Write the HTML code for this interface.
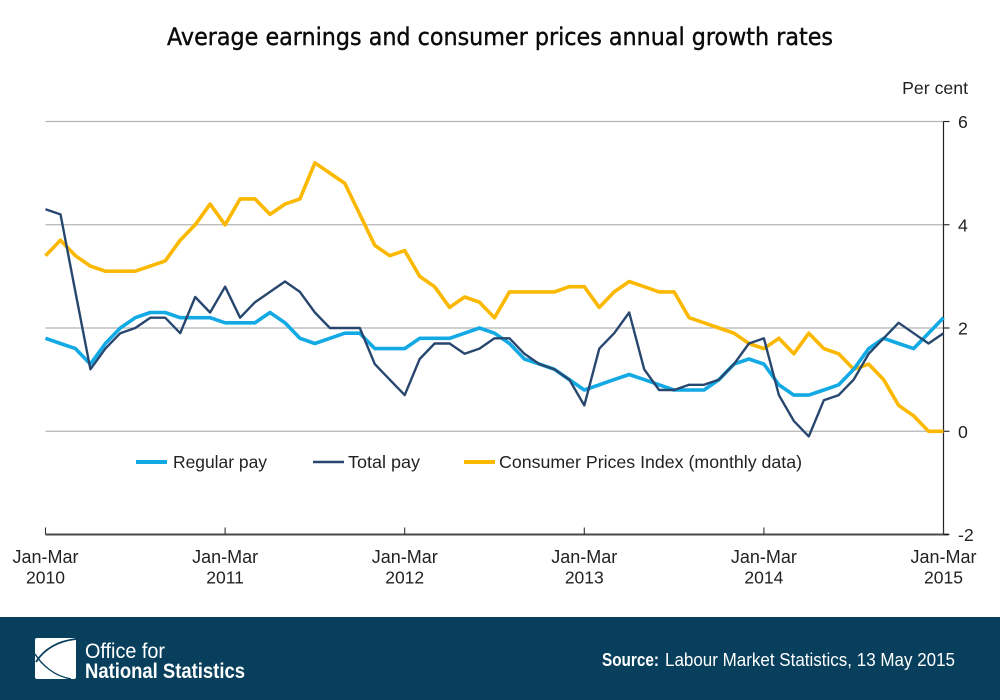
<!DOCTYPE html>
<html lang="en">
<head>
<meta charset="utf-8">
<title>Average earnings and consumer prices annual growth rates</title>
<style>
html,body{margin:0;padding:0;background:#fff;}
#wrap{position:relative;width:1000px;height:700px;overflow:hidden;}
svg{display:block;}
text{font-family:"Liberation Sans",sans-serif;}
</style>
</head>
<body>
<div id="wrap">
<svg id="chart" width="1000" height="700" viewBox="0 0 1000 700">
  <rect x="0" y="0" width="1000" height="700" fill="#ffffff"/>
  <text x="500" y="45" text-anchor="middle" font-size="24" fill="#0a0a0a" stroke="#0a0a0a" stroke-width="0.4" textLength="666" lengthAdjust="spacingAndGlyphs" style="font-family:'DejaVu Sans',sans-serif">Average earnings and consumer prices annual growth rates</text>
  <text x="968" y="94" text-anchor="end" font-size="17.7" fill="#222">Per cent</text>
  <g id="grid"></g>
  <g id="axes"></g>
  <g id="series"></g>

  <g>
    <g>
      <line x1="136" y1="462" x2="167" y2="462" stroke="#12a9e4" stroke-width="4"/>
      <text x="173" y="468" font-size="17.6" fill="#222" textLength="94" lengthAdjust="spacingAndGlyphs">Regular pay</text>
    </g>
    <g>
      <line x1="313" y1="462" x2="344" y2="462" stroke="#28476f" stroke-width="2.6"/>
      <text x="348" y="468" font-size="17.6" fill="#222" textLength="72" lengthAdjust="spacingAndGlyphs">Total pay</text>
    </g>
    <g>
      <line x1="464" y1="462" x2="495" y2="462" stroke="#fbb800" stroke-width="4"/>
      <text x="499" y="468" font-size="17.6" fill="#222" textLength="303" lengthAdjust="spacingAndGlyphs">Consumer Prices Index (monthly data)</text>
    </g>
  </g>

  <g>
    <rect x="0" y="617" width="1000" height="83" fill="#073f5c"/>
    <g>
      <rect x="35" y="638" width="41" height="41" rx="2" fill="#ffffff"/>
      <path d="M76 639 C58 641 44 649 36 662" fill="none" stroke="#073f5c" stroke-width="1.8"/>
      <path d="M35 654 C42 665 54 676 71 679" fill="none" stroke="#073f5c" stroke-width="1.4"/>
    </g>
    <text x="85" y="658" font-size="21" fill="#ffffff" textLength="80" lengthAdjust="spacingAndGlyphs">Office for</text>
    <text x="85" y="678" font-size="21" font-weight="bold" fill="#ffffff" textLength="160" lengthAdjust="spacingAndGlyphs">National Statistics</text>
    <text x="602" y="666" font-size="18" font-weight="bold" fill="#ffffff" textLength="57" lengthAdjust="spacingAndGlyphs">Source:</text>
    <text x="665" y="666" font-size="18" fill="#ffffff" textLength="290" lengthAdjust="spacingAndGlyphs">Labour Market Statistics, 13 May 2015</text>
  </g>
</svg>
</div>
<script>
const yearLabels = ['2010', '2011', '2012', '2013', '2014', '2015'];
const quarterLabel = 'Jan-Mar';
const yTicks = [6, 4, 2, 0, -2];
const gridValues = [6, 4, 2, 0];
const regularPay = [1.8,1.7,1.6,1.3,1.7,2.0,2.2,2.3,2.3,2.2,2.2,2.2,2.1,2.1,2.1,2.3,2.1,1.8,1.7,1.8,1.9,1.9,1.6,1.6,1.6,1.8,1.8,1.8,1.9,2.0,1.9,1.7,1.4,1.3,1.2,1.0,0.8,0.9,1.0,1.1,1.0,0.9,0.8,0.8,0.8,1.0,1.3,1.4,1.3,0.9,0.7,0.7,0.8,0.9,1.2,1.6,1.8,1.7,1.6,1.9,2.2];
const totalPay = [4.3,4.2,2.7,1.2,1.6,1.9,2.0,2.2,2.2,1.9,2.6,2.3,2.8,2.2,2.5,2.7,2.9,2.7,2.3,2.0,2.0,2.0,1.3,1.0,0.7,1.4,1.7,1.7,1.5,1.6,1.8,1.8,1.5,1.3,1.2,1.0,0.5,1.6,1.9,2.3,1.2,0.8,0.8,0.9,0.9,1.0,1.3,1.7,1.8,0.7,0.2,-0.1,0.6,0.7,1.0,1.5,1.8,2.1,1.9,1.7,1.9];
const cpi = [3.4,3.7,3.4,3.2,3.1,3.1,3.1,3.2,3.3,3.7,4.0,4.4,4.0,4.5,4.5,4.2,4.4,4.5,5.2,5.0,4.8,4.2,3.6,3.4,3.5,3.0,2.8,2.4,2.6,2.5,2.2,2.7,2.7,2.7,2.7,2.8,2.8,2.4,2.7,2.9,2.8,2.7,2.7,2.2,2.1,2.0,1.9,1.7,1.6,1.8,1.5,1.9,1.6,1.5,1.2,1.3,1.0,0.5,0.3,0.0,0.0];

const NS = 'http://www.w3.org/2000/svg';
const plotLeft = 45.5, plotRight = 943.5, plotTop = 121.5, plotBottom = 534.5;
const monthsPerYear = 12;
const lastIndex = (yearLabels.length - 1) * monthsPerYear;
function xScale(i) { return plotLeft + (plotRight - plotLeft) * i / lastIndex; }
function yScale(v) { return plotBottom - (v - (-2)) * (plotBottom - plotTop) / 8; }
function make(tag, attrs, parent) {
  const el = document.createElementNS(NS, tag);
  for (const k in attrs) el.setAttribute(k, attrs[k]);
  parent.appendChild(el);
  return el;
}
const grid = document.getElementById('grid');
const axes = document.getElementById('axes');
const series = document.getElementById('series');

gridValues.forEach(function (v) {
  const l = make('line', {x1: plotLeft, x2: plotRight, y1: yScale(v), y2: yScale(v), stroke: '#b4b4b4', 'stroke-width': 1.2}, grid);
  
  
});

const yAxis = make('line', {x1: plotRight, x2: plotRight, y1: plotTop, y2: plotBottom, stroke: '#222', 'stroke-width': 1.2}, axes);


const xAxis = make('line', {x1: plotLeft, x2: plotRight + 5, y1: plotBottom, y2: plotBottom, stroke: '#4a4a4a', 'stroke-width': 2}, axes);



yTicks.forEach(function (v) {
  const t = make('line', {x1: plotRight, x2: plotRight + 6, y1: yScale(v), y2: yScale(v), stroke: '#222', 'stroke-width': 1.1}, axes);
  
  
  const lab = make('text', {x: 958, y: yScale(v) + 6.5, 'text-anchor': 'start', 'font-size': 17.7, fill: '#222'}, axes);
  lab.textContent = String(v);
  
  
});

yearLabels.forEach(function (yr, n) {
  const x = xScale(n * monthsPerYear);
  const t = make('line', {x1: x, x2: x, y1: plotBottom - 7, y2: plotBottom, stroke: '#333', 'stroke-width': 1.1}, axes);
  
  
  const a = make('text', {x: x, y: 563, 'text-anchor': 'middle', 'font-size': 18, fill: '#222'}, axes);
  a.textContent = quarterLabel;
  
  
  const b = make('text', {x: x, y: 583.5, 'text-anchor': 'middle', 'font-size': 17.5, fill: '#222'}, axes);
  b.textContent = yr;
  
  
});

function drawLine(values, colour, width, name) {
  const pts = values.map(function (v, i) { return xScale(i).toFixed(1) + ',' + yScale(v).toFixed(1); }).join(' ');
  const p = make('polyline', {points: pts, fill: 'none', stroke: colour, 'stroke-width': width, 'stroke-linejoin': 'round'}, series);
  
  
}
drawLine(cpi, '#fbb800', 3.6, 'line-cpi');
drawLine(regularPay, '#12a9e4', 3.6, 'line-regular-pay');
drawLine(totalPay, '#28476f', 2.4, 'line-total-pay');
</script>
</body>
</html>
